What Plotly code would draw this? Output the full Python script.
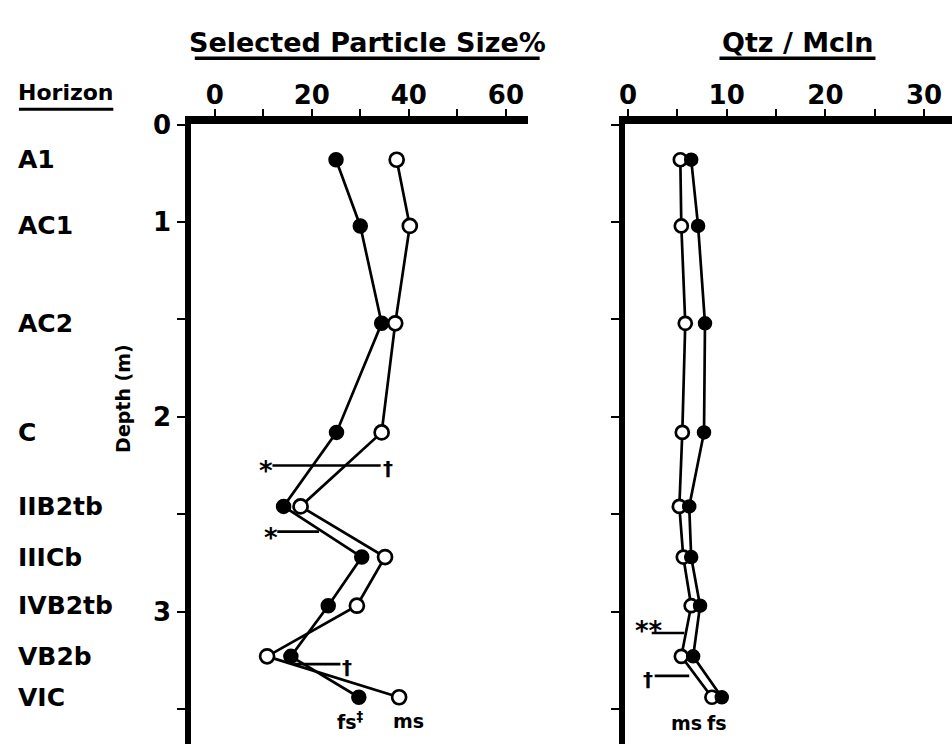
import plotly.graph_objects as go

# ---------------- data ----------------
horizons = ["A1", "AC1", "AC2", "C", "IIB2tb", "IIICb", "IVB2tb", "VB2b", "VIC"]
depth_m = [0.68, 1.02, 1.52, 2.08, 2.46, 2.72, 2.97, 3.23, 3.44]

# Selected particle size %  (fs = fine sand, filled; ms = medium sand, open)
fs_pct = [25.0, 30.0, 34.4, 25.1, 14.2, 30.3, 23.4, 15.7, 29.7]
ms_pct = [37.5, 40.2, 37.2, 34.4, 17.7, 35.1, 29.3, 10.8, 38.0]

# Qtz / Mcln ratio
ms_ratio = [5.3, 5.4, 5.8, 5.5, 5.2, 5.6, 6.4, 5.4, 8.5]
fs_ratio = [6.4, 7.1, 7.8, 7.7, 6.2, 6.4, 7.3, 6.6, 9.5]

left_tickvals = [0, 20, 40, 60]
left_ticktext = ["0", "20", "40", "60"]
left_minor_step = 10
right_tickvals = [0, 10, 20, 30]
right_ticktext = ["0", "10", "20", "30"]
right_minor_step = 5
depth_tickvals = [0.5, 1, 2, 3]
depth_ticktext = ["0", "1", "2", "3"]
depth_minor_vals = [0.5, 1, 1.5, 2, 2.5, 3, 3.5]

# significance markers: (panel, depth, x_start, x_end, left_sym, right_sym)
sig_marks = [
    ("L", 2.25, 11.9, 34.2, "*", "†"),
    ("L", 2.59, 12.9, 21.5, "*", ""),
    ("L", 3.27, 16.4, 25.9, "", "†"),
    ("R", 3.11, 2.4, 5.7, "**", ""),
    ("R", 3.33, 2.7, 6.2, "†", ""),
]

# ---------------- layout helpers ----------------
W, H = 952, 744
def px(x):
    return x / W
def py(y):
    return 1 - y / H

FONT = "DejaVu Sans"
BLACK = "black"
MS = 14

fig = go.Figure()

# left panel
fig.add_trace(go.Scatter(
    x=fs_pct, y=depth_m, mode="lines+markers", name="fs",
    line=dict(color=BLACK, width=2.7),
    marker=dict(size=MS, color=BLACK, line=dict(color=BLACK, width=1.5)),
    xaxis="x", yaxis="y", showlegend=False, cliponaxis=False))
fig.add_trace(go.Scatter(
    x=ms_pct, y=depth_m, mode="lines+markers", name="ms",
    line=dict(color=BLACK, width=2.7),
    marker=dict(size=MS, color="white", line=dict(color=BLACK, width=2.7)),
    xaxis="x", yaxis="y", showlegend=False, cliponaxis=False))

# right panel
fig.add_trace(go.Scatter(
    x=ms_ratio, y=depth_m, mode="lines+markers", name="ms",
    line=dict(color=BLACK, width=2.7),
    marker=dict(size=13, color="white", line=dict(color=BLACK, width=2.7)),
    xaxis="x2", yaxis="y2", showlegend=False, cliponaxis=False))
fig.add_trace(go.Scatter(
    x=fs_ratio, y=depth_m, mode="lines+markers", name="fs",
    line=dict(color=BLACK, width=2.7),
    marker=dict(size=13, color=BLACK, line=dict(color=BLACK, width=1.5)),
    xaxis="x2", yaxis="y2", showlegend=False, cliponaxis=False))

yrange = [3.68, 0.496]
tickfont = dict(family=FONT, size=26, color=BLACK, weight="bold")

common_x = dict(side="top", showline=True, linewidth=8, linecolor=BLACK,
                ticks="outside", ticklen=7, tickwidth=2, tickcolor=BLACK,
                showgrid=False, zeroline=False, tickfont=tickfont,
                fixedrange=True, ticklabelstandoff=-6)
common_y = dict(range=yrange, showline=True, linewidth=6, linecolor=BLACK,
                ticks="outside", ticklen=8, tickwidth=2, tickcolor=BLACK,
                showgrid=False, zeroline=False, tickfont=tickfont,
                tickvals=depth_tickvals, ticktext=depth_ticktext,
                minor=dict(tickvals=depth_minor_vals, ticks="outside",
                           ticklen=8, tickwidth=2, tickcolor=BLACK,
                           showgrid=False),
                fixedrange=True, domain=[0, py(112)])

fig.update_layout(
    width=W, height=H,
    margin=dict(l=0, r=0, t=0, b=0),
    paper_bgcolor="white", plot_bgcolor="white",
    xaxis=dict(domain=[px(186.5), px(525)], range=[-4.81, 64.49],
               tickvals=left_tickvals, ticktext=left_ticktext,
               minor=dict(tick0=0, dtick=left_minor_step, ticks="outside",
                          ticklen=7, tickwidth=2, tickcolor=BLACK,
                          showgrid=False),
               anchor="y", **common_x),
    yaxis=dict(anchor="x", showticklabels=True, ticklabelstandoff=1,
               **common_y),
    xaxis2=dict(domain=[px(622.5), 1.0], range=[-0.35, 32.83],
                tickvals=right_tickvals, ticktext=right_ticktext,
                minor=dict(tick0=0, dtick=right_minor_step, ticks="outside",
                           ticklen=7, tickwidth=2, tickcolor=BLACK,
                           showgrid=False),
                anchor="y2", **common_x),
    yaxis2=dict(anchor="x2", showticklabels=False, **common_y),
)

annotations = []
shapes = []

def text(x, y, s, size, xref="paper", yref="paper", xanchor="center",
         yanchor="middle", angle=0, xshift=0, yshift=0):
    annotations.append(dict(
        x=x, y=y, xref=xref, yref=yref, text=s, showarrow=False,
        xanchor=xanchor, yanchor=yanchor, textangle=angle, borderpad=0,
        xshift=xshift, yshift=yshift,
        font=dict(family=FONT, size=size, color=BLACK, weight="bold")))

# titles
text(px(363.5), py(29), "Selected Particle Size%", 27)
shapes.append(dict(type="line", xref="paper", yref="paper",
                   x0=px(190), x1=px(537), y0=py(45), y1=py(45),
                   line=dict(color=BLACK, width=3.5)))
text(px(797.5), py(29), "Qtz / Mcln", 27)
shapes.append(dict(type="line", xref="paper", yref="paper",
                   x0=px(718), x1=px(875), y0=py(45), y1=py(45),
                   line=dict(color=BLACK, width=3.5)))
text(px(11), py(80), "Horizon", 22, xanchor="left")
shapes.append(dict(type="line", xref="paper", yref="paper",
                   x0=px(13), x1=px(108), y0=py(97), y1=py(97),
                   line=dict(color=BLACK, width=3)))

# horizon labels
for name, d in zip(horizons, depth_m):
    text(px(11), d, name, 25, yref="y", xanchor="left")

# depth axis label
text(px(117), py(392), "Depth (m)", 19, angle=-90)

# series labels
text(28.0, 3.56, "fs<sup>‡</sup>", 19, xref="x", yref="y")
text(40.0, 3.56, "ms", 19, xref="x", yref="y")
text(5.9, 3.57, "ms", 19, xref="x2", yref="y2")
text(9.0, 3.57, "fs", 19, xref="x2", yref="y2")

# significance markers
for panel, d, x0, x1, ls, rs in sig_marks:
    xr = "x" if panel == "L" else "x2"
    yr = "y" if panel == "L" else "y2"
    shapes.append(dict(type="line", xref=xr, yref=yr, x0=x0, x1=x1,
                       y0=d, y1=d, line=dict(color=BLACK, width=2.7)))
    for sym, xv, anchor in ((ls, x0, "right"), (rs, x1, "left")):
        if not sym:
            continue
        if sym == "**":
            text(xv, d, sym, 26, xref=xr, yref=yr, xanchor="right",
                 xshift=12, yshift=2)
        elif sym == "*":
            text(xv, d, sym, 26, xref=xr, yref=yr, xanchor=anchor,
                 xshift=2, yshift=-6)
        else:
            text(xv, d, sym, 20, xref=xr, yref=yr, xanchor=anchor,
                 xshift=1 if anchor == "left" else -1, yshift=-3)

fig.update_layout(annotations=annotations, shapes=shapes)
fig.write_html("out.html",
               config={"displayModeBar": False},
               post_script="document.body.style.margin='0';")
